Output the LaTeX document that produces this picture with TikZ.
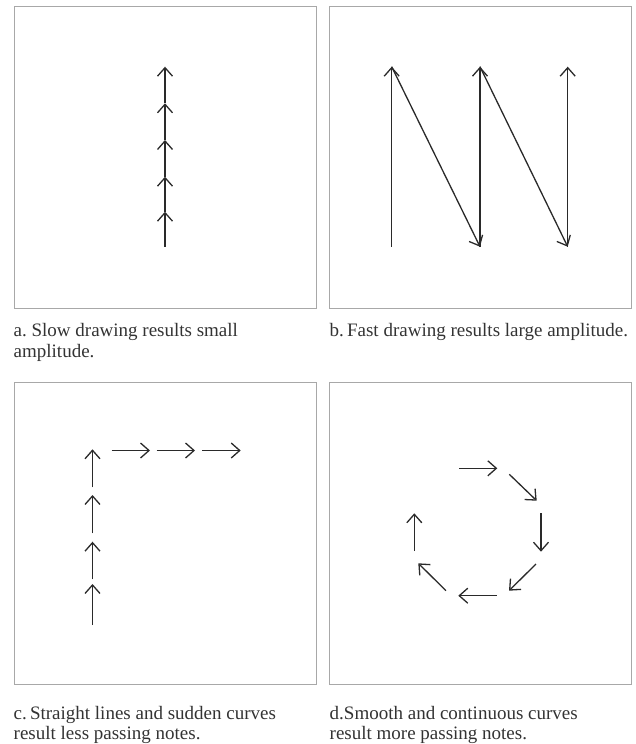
\documentclass[tikz,border=0pt]{standalone}
\usepackage{fontspec}
\setmainfont{Liberation Serif}
\usetikzlibrary{arrows.meta}
\definecolor{boxgray}{HTML}{A8A8A8}
\definecolor{ink}{HTML}{2A2A2A}
\definecolor{txt}{HTML}{333333}
\frenchspacing
\begin{document}
\begin{tikzpicture}[x=1pt,y=-1pt,
  panel/.style={draw=boxgray, line width=0.9pt},
  arr/.style={draw=ink, line width=1.3pt, -{Straight Barb[length=8.5pt,width=15pt]}},
  captext/.style={anchor=base west, inner sep=0pt, font=\fontsize{19}{21}\selectfont, text=txt}]
\useasboundingbox (0,0) rectangle (636,744);
% panels
\draw[panel] (14,6) rectangle (316.7,308);
\draw[panel] (329.3,6) rectangle (631.7,308);
\draw[panel] (14,382) rectangle (316.7,684);
\draw[panel] (329.3,382) rectangle (631.7,684);
% panel a
\foreach \ya/\yb in {246.7/211.7, 211.7/176.7, 176.7/140, 140/103.3, 103.3/66.7}
  \draw[arr] (165,\ya) -- (165,\yb);
% panel b
\coordinate (b0) at (391.7,246.7);
\coordinate (b1) at (391.7,66.7);
\coordinate (b2) at (480,246.7);
\coordinate (b3) at (480,66.7);
\coordinate (b4) at (567.7,246.7);
\coordinate (b5) at (567.7,66.7);
\draw[arr] (b0) -- (b1);
\draw[arr] (b1) -- (b2);
\draw[arr] (b2) -- (b3);
\draw[arr] (b3) -- (b4);
\draw[arr] (b4) -- (b5);
% panel c
\foreach \ya/\yb in {625/584, 579.3/541.7, 533.3/495, 487.3/449.3}
  \draw[arr] (92.5,\ya) -- (92.5,\yb);
\foreach \xa/\xb in {111.5/150, 156.7/195, 202.3/240.7}
  \draw[arr] (\xa,450.5) -- (\xb,450.5);
% panel d
\draw[arr] (459,468.3) -- (497.3,468.3);
\draw[arr] (509.3,474.3) -- (536.7,500.7);
\draw[arr] (541,513.3) -- (541,551.7);
\draw[arr] (536,564) -- (509,590.7);
\draw[arr] (496.7,595.7) -- (458.3,595.7);
\draw[arr] (446,590.7) -- (418.3,563.3);
\draw[arr] (414.3,551) -- (414.3,513.3);
% captions
\node[captext] (ca1) at (13.5,336.7) {a. Slow drawing results small};
\node[captext] (ca2) at (13.5,357.7) {amplitude.};
\node[captext] (cb1) at (329.5,336.7) {b.\,Fast drawing results large amplitude.};
\node[captext] (cc1) at (13.5,719) {c.\,Straight lines and sudden curves};
\node[captext] (cc2) at (13.5,739.5) {result less passing notes.};
\node[captext] (cd1) at (329.5,719) {d.Smooth and continuous curves};
\node[captext] (cd2) at (329.5,739.5) {result more passing notes.};
\end{tikzpicture}
\end{document}
